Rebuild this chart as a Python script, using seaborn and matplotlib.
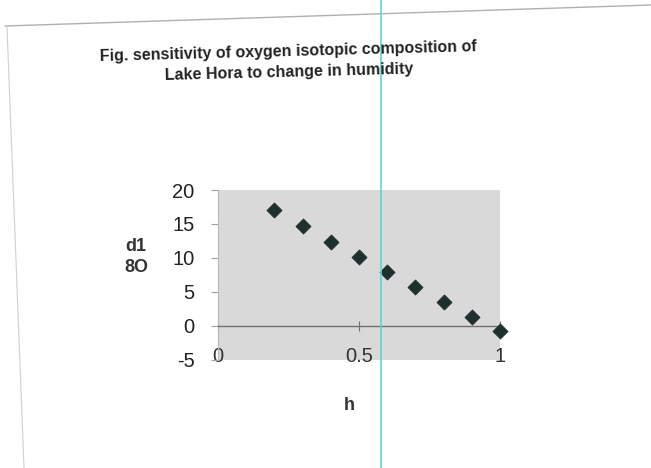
import matplotlib
matplotlib.use('Agg')
import matplotlib.pyplot as plt
import seaborn as sns
import pandas as pd
from matplotlib.lines import Line2D

# humidity vs d18O
HUMIDITY = [0.2, 0.3, 0.4, 0.5, 0.6, 0.7, 0.8, 0.9, 1.0]
D18O = [17.0, 14.7, 12.4, 10.1, 7.9, 5.7, 3.5, 1.3, -0.8]

Y_TICKS = [-5, 0, 5, 10, 15, 20]
X_TICKS = [0, 0.5, 1]
X_TICK_LABELS = ['0', '0.5', '1']

TITLE = 'Fig. sensitivity of oxygen isotopic composition of\nLake Hora to change in humidity'


def main():
    sns.set_theme(style='white')
    plt.rcParams['font.family'] = ['Liberation Sans', 'DejaVu Sans']
    plt.rcParams['axes.unicode_minus'] = False

    data = pd.DataFrame({'h': HUMIDITY, 'd18O': D18O})

    fig = plt.figure(figsize=(6.51, 4.68), dpi=100)
    fig.patch.set_facecolor('white')
    ax = fig.add_axes([0.335, 0.231, 0.433, 0.363])
    ax.set_facecolor('#d9d9d9')

    sns.scatterplot(
        x='h',
        y='d18O',
        data=data,
        marker='D',
        s=60,
        color='#1e302d',
        edgecolor='#1e302d',
        linewidth=0.5,
        clip_on=False,
        zorder=5,
        ax=ax
    )

    ax.set_xlim(0, 1)
    ax.set_ylim(-5, 20)
    ax.set_yticks(Y_TICKS)
    ax.set_xticks(X_TICKS)
    ax.set_xticklabels(X_TICK_LABELS)

    # excel style: x axis crosses at y=0, labels sit low
    for side in ['top', 'right']:
        ax.spines[side].set_visible(False)
    ax.spines['left'].set_color('#b8b8b8')
    ax.spines['left'].set_linewidth(0.8)
    ax.spines['bottom'].set_position(('data', 0))
    ax.spines['bottom'].set_color('#707070')
    ax.spines['bottom'].set_linewidth(1.0)

    ax.tick_params(axis='y', which='both', left=True, direction='out', length=5,
                   width=0.8, color='#a0a0a0', labelsize=14.5, labelcolor='#222222', pad=12)
    ax.tick_params(axis='x', which='both', bottom=True, direction='inout', length=7,
                   width=0.8, color='#707070', labelsize=14.5, labelcolor='#333333', pad=12)

    ax.set_xlabel('')
    ax.set_ylabel('')
    fig.text(136 / 651, 1 - 257 / 468, 'd1\n8O', ha='center', va='center',
             fontsize=13, fontweight='bold', color='#333333', linespacing=1.25)
    fig.text(349 / 651, 1 - 406 / 468, 'h', ha='center', va='center',
             fontsize=13, fontweight='bold', color='#333333')

    fig.text(289 / 651, 1 - 62 / 468, TITLE, ha='center', va='center',
             fontsize=11.5, fontweight='bold', color='#222222', rotation=1.5,
             multialignment='center', linespacing=1.45)

    # scanned page border and the cyan cursor line
    fig.add_artist(Line2D([5 / 651, 1.0], [1 - 26 / 468, 1 - 5 / 468],
                          transform=fig.transFigure, color='#b0b0b0', lw=1.0))
    fig.add_artist(Line2D([7 / 651, 24 / 651], [1 - 27 / 468, 0.0],
                          transform=fig.transFigure, color='#d0d0d0', lw=0.8))
    fig.add_artist(Line2D([381 / 651, 381 / 651], [0.0, 1.0],
                          transform=fig.transFigure, color='#5fd6d6', lw=1.2))

    fig.savefig('out.png', dpi=100)


if __name__ == '__main__':
    main()
